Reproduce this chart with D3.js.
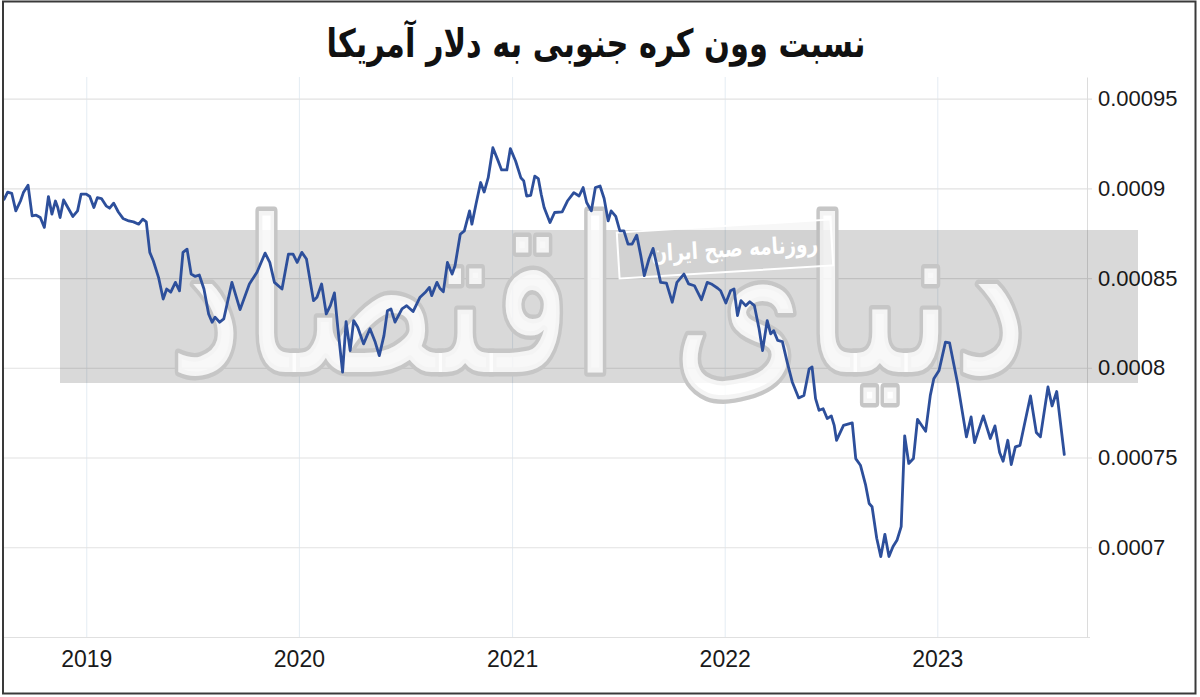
<!DOCTYPE html>
<html><head><meta charset="utf-8">
<script src="https://cdn.jsdelivr.net/npm/d3@7"></script>
<style>body{margin:0;background:#fff}svg{display:block}</style>
</head><body>
<svg id="c" width="1200" height="697"></svg>
<script>
const title = "نسبت وون کره جنوبی به دلار آمریکا";
const watermarkMain = "دنیای اقتصاد";
const watermarkLabel = "روزنامه صبح ایران";

const dates = [
"2018-08-13","2018-08-19","2018-08-26","2018-09-02","2018-09-10","2018-09-15","2018-09-23","2018-09-30","2018-10-07","2018-10-14",
"2018-10-21","2018-10-28","2018-11-03","2018-11-09","2018-11-13","2018-11-17","2018-11-23","2018-12-02","2018-12-09","2018-12-17",
"2018-12-23","2019-01-01","2019-01-07","2019-01-14","2019-01-20","2019-01-27","2019-02-04","2019-02-10","2019-02-17","2019-02-25",
"2019-03-05","2019-03-15","2019-03-23","2019-04-01","2019-04-08","2019-04-14","2019-04-20","2019-04-26","2019-05-05","2019-05-13",
"2019-05-19","2019-05-26","2019-06-03","2019-06-10","2019-06-16","2019-06-23","2019-06-30","2019-07-07","2019-07-14","2019-07-22",
"2019-07-30","2019-08-05","2019-08-10","2019-08-18","2019-08-25","2019-09-08","2019-09-22","2019-10-08","2019-10-21","2019-11-04",
"2019-11-12","2019-11-20","2019-12-03","2019-12-14","2019-12-22","2019-12-29","2020-01-06","2020-01-14","2020-01-26","2020-02-01",
"2020-02-09","2020-02-17","2020-02-24","2020-03-02","2020-03-08","2020-03-16","2020-03-22","2020-03-29","2020-04-04","2020-04-11",
"2020-04-21","2020-05-02","2020-05-11","2020-05-18","2020-05-26","2020-06-01","2020-06-07","2020-06-14","2020-06-26","2020-07-04",
"2020-07-15","2020-07-27","2020-08-06","2020-08-12","2020-08-16","2020-08-25","2020-08-30","2020-09-05","2020-09-12","2020-09-20",
"2020-09-25","2020-10-04","2020-10-11","2020-10-20","2020-10-24","2020-10-31","2020-11-08","2020-11-14","2020-11-21","2020-11-29",
"2020-12-07","2020-12-14","2020-12-23","2020-12-29","2021-01-07","2021-01-16","2021-01-21","2021-01-26","2021-02-02","2021-02-09",
"2021-02-15","2021-02-20","2021-02-25","2021-03-07","2021-03-15","2021-03-28","2021-04-06","2021-04-17","2021-04-26","2021-05-03",
"2021-05-09","2021-05-17","2021-05-24","2021-06-01","2021-06-08","2021-06-15","2021-06-20","2021-06-28","2021-07-05","2021-07-12",
"2021-07-19","2021-07-26","2021-08-03","2021-08-10","2021-08-16","2021-08-24","2021-08-31","2021-09-07","2021-09-13","2021-09-23",
"2021-10-03","2021-10-11","2021-10-23","2021-10-31","2021-11-10","2021-11-22","2021-12-02","2021-12-09","2021-12-20","2021-12-25",
"2022-01-03","2022-01-11","2022-01-17","2022-01-23","2022-01-29","2022-02-06","2022-02-13","2022-02-21","2022-03-01","2022-03-07",
"2022-03-15","2022-03-21","2022-03-26","2022-04-02","2022-04-10","2022-04-19","2022-04-27","2022-05-08","2022-05-17","2022-05-26",
"2022-05-31","2022-06-06","2022-06-12","2022-06-19","2022-06-26","2022-07-03","2022-07-08","2022-07-12","2022-07-24","2022-08-08",
"2022-08-14","2022-08-22","2022-08-31","2022-09-06","2022-09-11","2022-09-19","2022-09-26","2022-10-03","2022-10-10","2022-10-17",
"2022-10-24","2022-10-31","2022-11-06","2022-11-13","2022-11-21","2022-11-28","2022-12-12","2022-12-20","2022-12-26","2023-01-04",
"2023-01-15","2023-01-22","2023-02-05","2023-02-20","2023-02-28","2023-03-06","2023-03-21","2023-04-02","2023-04-10","2023-04-18",
"2023-04-24","2023-05-02","2023-05-08","2023-05-15","2023-05-23","2023-06-10","2023-06-20","2023-06-27","2023-07-10","2023-07-17",
"2023-07-25","2023-08-07"];

const values = [
0.0008939,0.0008979,0.0008972,0.0008874,0.0008929,0.0008976,0.0009017,0.0008846,0.0008850,0.0008837,
0.0008782,0.0008954,0.0008856,0.0008929,0.0008893,0.0008837,0.0008935,0.0008883,0.0008843,0.0008874,
0.0008967,0.0008967,0.0008954,0.0008893,0.0008948,0.0008943,0.0008902,0.0008889,0.0008917,0.0008868,
0.0008832,0.0008818,0.0008813,0.0008800,0.0008828,0.0008813,0.0008643,0.0008596,0.0008504,0.0008383,
0.0008439,0.0008421,0.0008476,0.0008429,0.0008643,0.0008661,0.0008522,0.0008509,0.0008517,0.0008439,
0.0008300,0.0008254,0.0008282,0.0008254,0.0008272,0.0008476,0.0008324,0.0008467,0.0008532,0.0008639,
0.0008587,0.0008476,0.0008439,0.0008633,0.0008633,0.0008587,0.0008643,0.0008606,0.0008374,0.0008393,
0.0008467,0.0008300,0.0008346,0.0008417,0.0008217,0.0007976,0.0008257,0.0008096,0.0008263,0.0008226,
0.0008133,0.0008217,0.0008143,0.0008068,0.0008179,0.0008318,0.0008328,0.0008254,0.0008328,0.0008346,
0.0008313,0.0008393,0.0008424,0.0008448,0.0008402,0.0008476,0.0008443,0.0008424,0.0008587,0.0008522,
0.0008568,0.0008744,0.0008763,0.0008874,0.0008800,0.0008911,0.0009032,0.0008979,0.0009059,0.0009226,
0.0009161,0.0009102,0.0009102,0.0009221,0.0009152,0.0009059,0.0009041,0.0008957,0.0008961,0.0009068,
0.0009054,0.0008967,0.0008893,0.0008809,0.0008865,0.0008868,0.0008929,0.0008976,0.0008957,0.0009004,
0.0008921,0.0008874,0.0009004,0.0009013,0.0008943,0.0008818,0.0008874,0.0008843,0.0008763,0.0008763,
0.0008689,0.0008689,0.0008739,0.0008624,0.0008513,0.0008606,0.0008665,0.0008565,0.0008476,0.0008472,
0.0008365,0.0008476,0.0008522,0.0008467,0.0008457,0.0008379,0.0008476,0.0008467,0.0008443,0.0008429,
0.0008361,0.0008429,0.0008439,0.0008291,0.0008374,0.0008346,0.0008368,0.0008346,0.0008217,0.0008096,
0.0008263,0.0008189,0.0008207,0.0008152,0.0008146,0.0008022,0.0007921,0.0007832,0.0007846,0.0007994,
0.0008004,0.0007828,0.0007763,0.0007772,0.0007717,0.0007732,0.0007679,0.0007596,0.0007679,0.0007693,
0.0007494,0.0007457,0.0007346,0.0007244,0.0007226,0.0007050,0.0006948,0.0007072,0.0006948,0.0007004,
0.0007041,0.0007115,0.0007621,0.0007467,0.0007494,0.0007713,0.0007646,0.0007846,0.0007939,0.0007985,
0.0008143,0.0008139,0.0007911,0.0007615,0.0007726,0.0007583,0.0007732,0.0007606,0.0007676,0.0007528,
0.0007479,0.0007596,0.0007461,0.0007559,0.0007568,0.0007843,0.0007639,0.0007615,0.0007893,0.0007787,
0.0007868,0.0007517];

const yTicks = [0.0007, 0.00075, 0.0008, 0.00085, 0.0009, 0.00095];
const yTickLabels = ["0.0007", "0.00075", "0.0008", "0.00085", "0.0009", "0.00095"];
const xTickYears = [2019, 2020, 2021, 2022, 2023];
const xTickLabels = ["2019", "2020", "2021", "2022", "2023"];
const xDomain = ["2018-08-11", "2023-09-15"];
const yDomain = [0.00065, 0.000962];

const W = 1200, H = 697;
const plot = {left: 3, right: 1087, top: 77, bottom: 637};
const parse = d3.timeParse("%Y-%m-%d");
const data = dates.map((d, i) => ({date: parse(d), value: values[i]}));

const svg = d3.select("#c");
svg.append("rect").attr("width", W).attr("height", H).attr("fill", "#fff");

const x = d3.scaleTime().domain(xDomain.map(parse)).range([plot.left, plot.right]);
const y = d3.scaleLinear().domain(yDomain).range([plot.bottom, plot.top]);
const yearDates = xTickYears.map(yy => new Date(yy, 0, 1));

// vertical grid
svg.append("g").attr("transform", `translate(0,${plot.bottom})`)
  .call(d3.axisBottom(x).tickValues(yearDates).tickSize(-(plot.bottom - plot.top)).tickFormat(""))
  .call(g => g.select(".domain").remove())
  .call(g => g.selectAll("line").attr("stroke", "#e4ecf3").attr("stroke-width", 1));

// horizontal grid
svg.append("g").attr("transform", `translate(${plot.right + 5},0)`)
  .call(d3.axisLeft(y).tickValues(yTicks).tickSize(plot.right + 5 - plot.left).tickFormat(""))
  .call(g => g.select(".domain").remove())
  .call(g => g.selectAll("line").attr("stroke", "#e2e2e2").attr("stroke-width", 1.2));

// bottom baseline
svg.append("line").attr("x1", plot.left).attr("x2", plot.right + 3)
  .attr("y1", plot.bottom + 0.5).attr("y2", plot.bottom + 0.5).attr("stroke", "#e0e0e0");

// right axis
svg.append("g").attr("transform", `translate(${plot.right},0)`)
  .call(d3.axisRight(y).tickValues(yTicks).tickSize(0).tickSizeOuter(0).tickPadding(11)
     .tickFormat((d, i) => yTickLabels[i]))
  .call(g => g.select(".domain").attr("stroke", "#dcdcdc"))
  .call(g => g.selectAll("text").attr("font-family", "Liberation Sans, Arial, sans-serif")
     .attr("font-size", 22).attr("fill", "#1a1a1a"));

// bottom axis labels
svg.append("g").attr("transform", `translate(0,${plot.bottom})`)
  .call(d3.axisBottom(x).tickValues(yearDates).tickSize(0).tickPadding(14)
     .tickFormat((d, i) => xTickLabels[i]))
  .call(g => g.select(".domain").remove())
  .call(g => g.selectAll("text").attr("font-family", "Liberation Sans, Arial, sans-serif")
     .attr("font-size", 23).attr("fill", "#1a1a1a"));

// watermark band
svg.append("rect").attr("x", 60).attr("y", 230).attr("width", 1078).attr("height", 153)
  .attr("fill", "#000").attr("fill-opacity", 0.15);

// watermark calligraphy (approximated as outlined text)
const wm = svg.append("text").attr("text-anchor", "middle")
  .attr("font-family", "DejaVu Sans, sans-serif").attr("font-weight", "normal")
  .attr("font-size", 170)
  .attr("fill", "#fff").attr("fill-opacity", 0.8)
  .attr("stroke", "#c6c6c6").attr("stroke-width", 7).attr("paint-order", "stroke")
  .attr("stroke-linejoin", "round")
  .text(watermarkMain);
const wmW = wm.node().getComputedTextLength() || 880;
wm.attr("transform", `translate(598,372) scale(${860 / wmW},1.25)`);

// watermark label
const lab = svg.append("g").attr("transform", "rotate(-3.5,725,249)");
lab.append("rect").attr("x", 618).attr("y", 226).attr("width", 214).attr("height", 46)
  .attr("fill", "#000").attr("fill-opacity", 0.03).attr("stroke", "#fff").attr("stroke-width", 2);
lab.append("text").attr("text-anchor", "end")
  .attr("transform", "translate(818,257) scale(0.8,1)")
  .attr("font-family", "DejaVu Sans, sans-serif").attr("font-weight", "bold").attr("font-size", 23)
  .attr("fill", "#fff").text(watermarkLabel);

// line
const line = d3.line().x(d => x(d.date)).y(d => y(d.value));
svg.append("path").datum(data).attr("d", line)
  .attr("fill", "none").attr("stroke", "#2d4f9b").attr("stroke-width", 2.8)
  .attr("stroke-linejoin", "round").attr("stroke-linecap", "round");

// title
svg.append("text").attr("text-anchor", "middle")
  .attr("transform", "translate(596,57) scale(0.78,1)")
  .attr("font-family", "DejaVu Sans, sans-serif").attr("font-weight", "bold").attr("font-size", 39)
  .attr("fill", "#111").text(title);

// frame
svg.append("rect").attr("x", 3).attr("y", 1.5).attr("width", 1192.5).attr("height", 692)
  .attr("fill", "none").attr("stroke", "#3a3a3a").attr("stroke-width", 2);
</script>
</body></html>
